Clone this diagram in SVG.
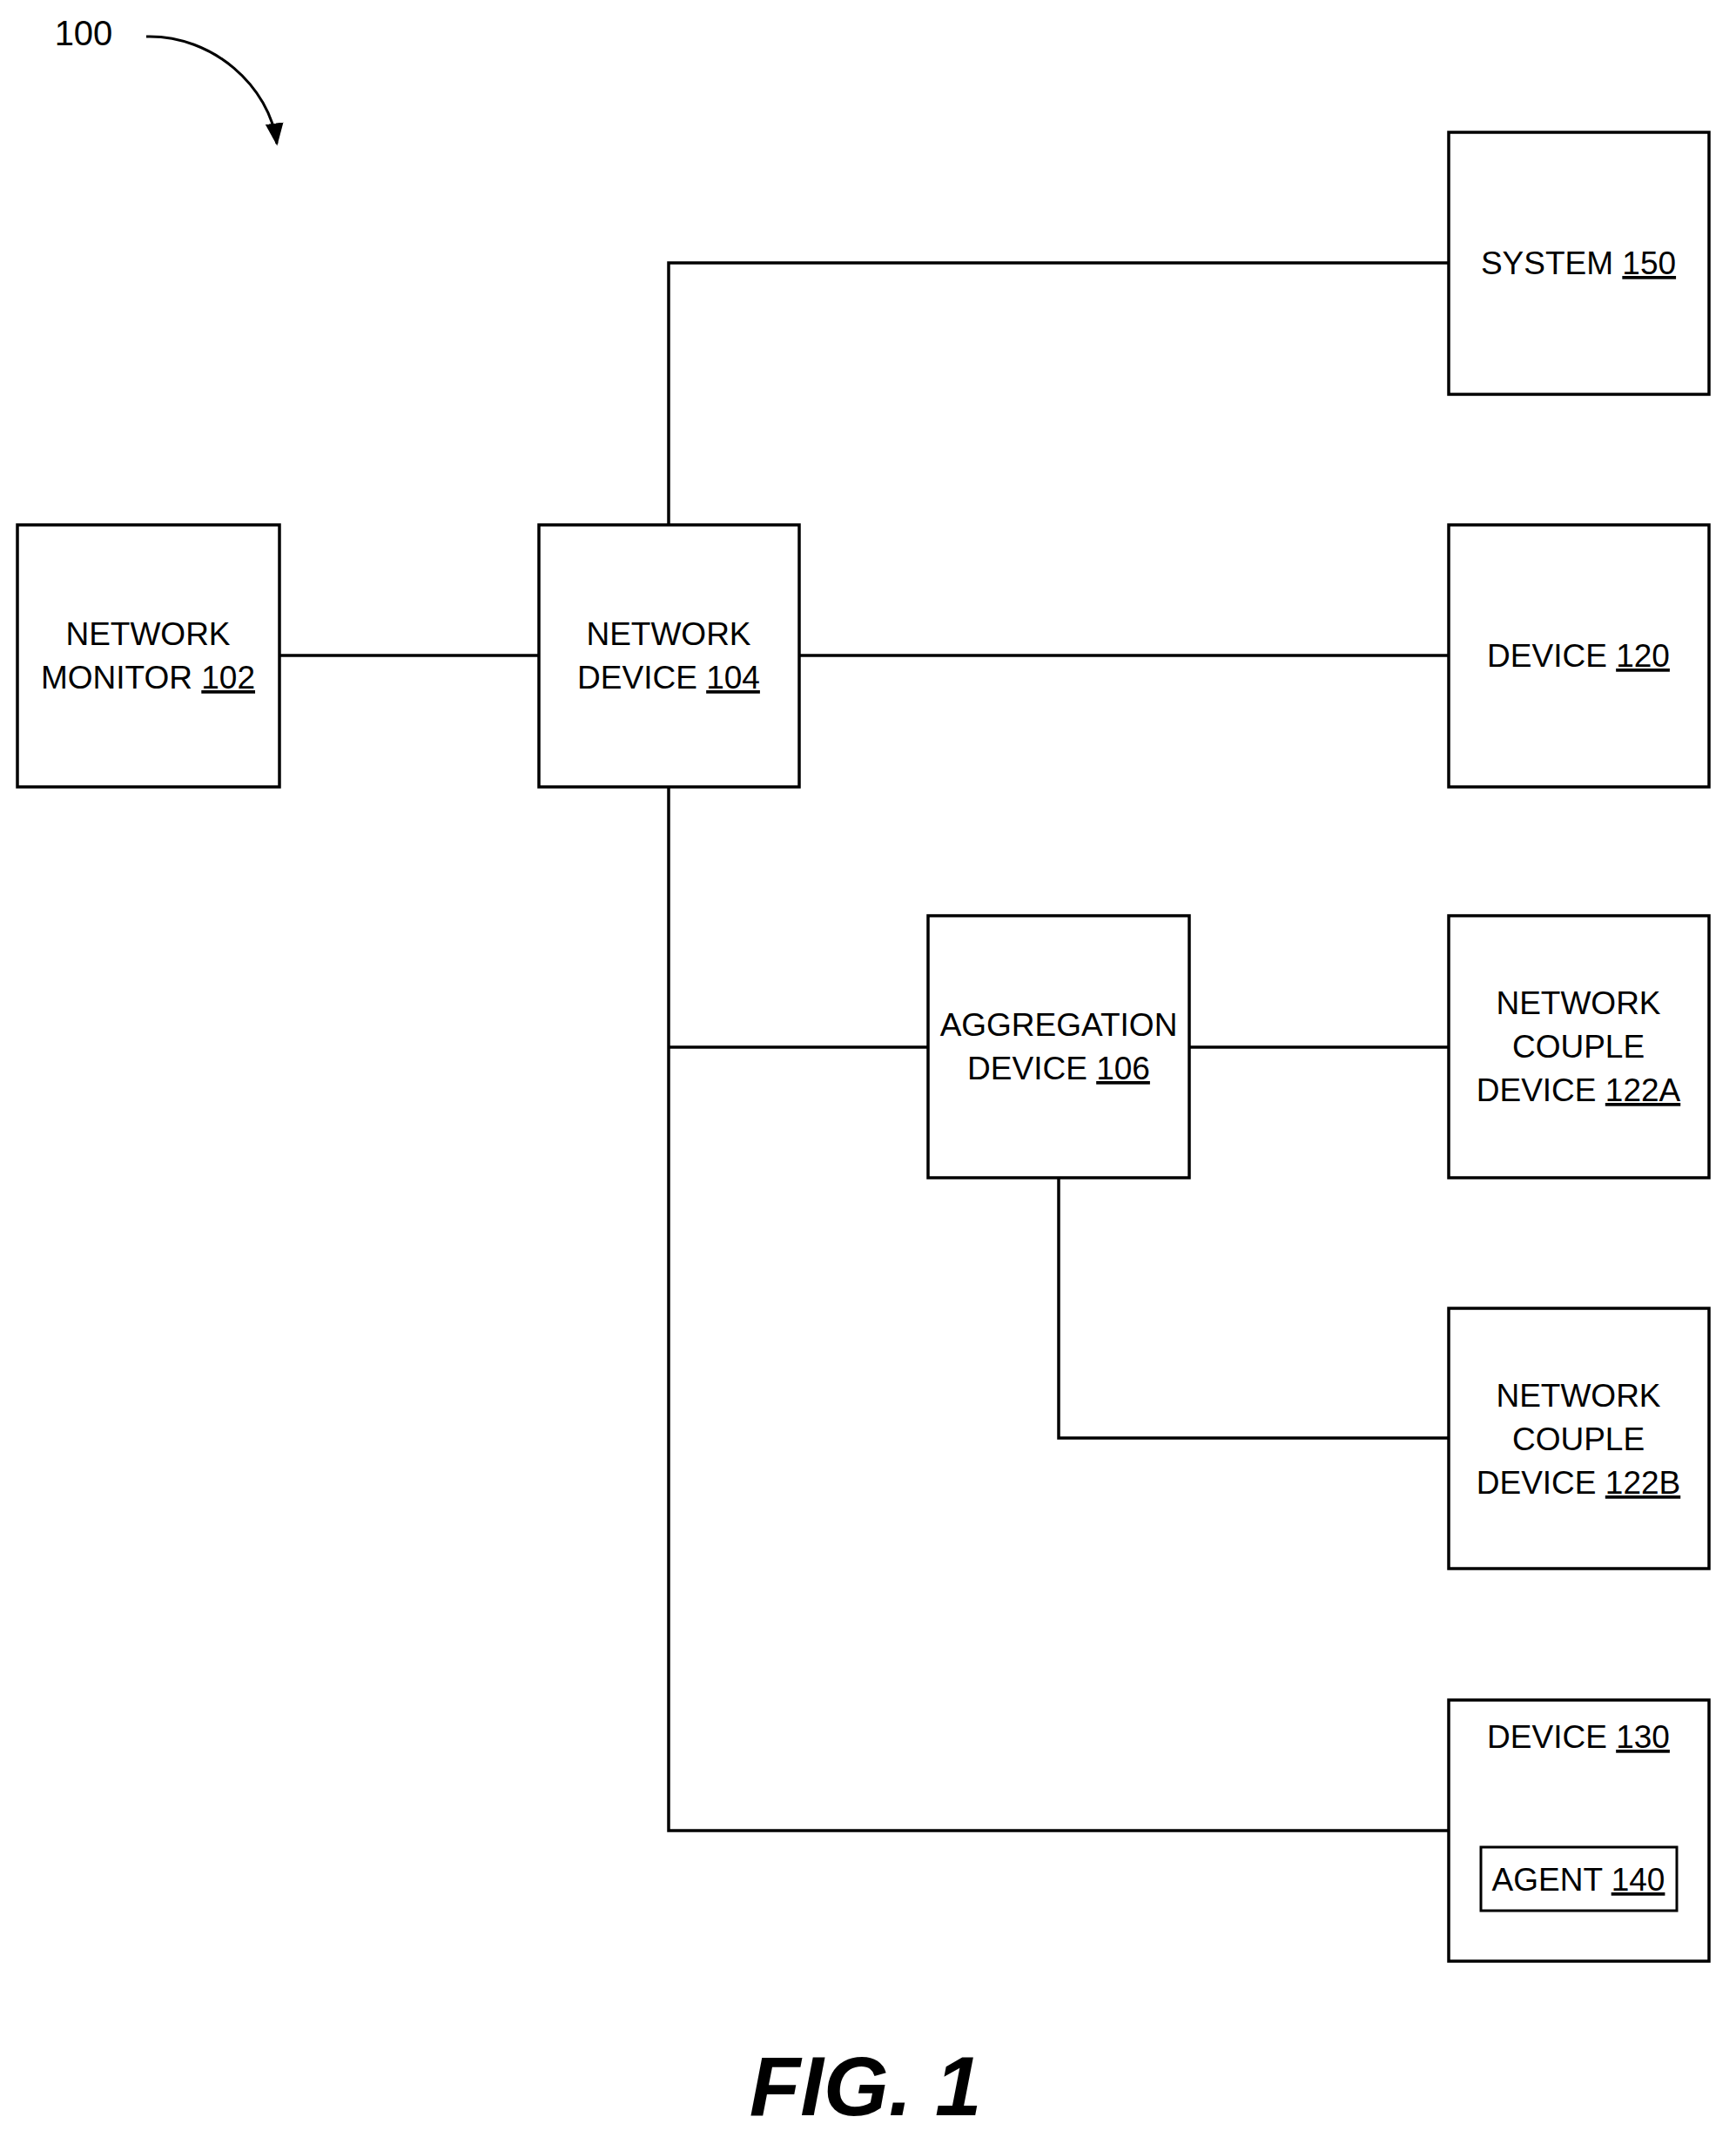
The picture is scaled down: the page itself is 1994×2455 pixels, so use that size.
<svg xmlns="http://www.w3.org/2000/svg" width="1994" height="2455" viewBox="0 0 1994 2455">
<style>
rect{fill:none;stroke:#000;stroke-width:3.5}
.c line,.c path{stroke:#000;stroke-width:3.5;fill:none}
text{font-family:"Liberation Sans",Arial,sans-serif;font-size:37px;text-anchor:middle;fill:#000}
.u{text-decoration:underline}
</style>
<defs><marker id="ah" viewBox="0 0 10 10" refX="9" refY="5" markerWidth="8" markerHeight="8" orient="auto" markerUnits="userSpaceOnUse"><path d="M0,0 L10,5 L0,10 z" fill="#000"/></marker>
<marker id="ah2" viewBox="0 0 10 10" refX="9" refY="5" markerWidth="26" markerHeight="26" orient="auto" markerUnits="userSpaceOnUse"><path d="M0,1 L10,5 L0,9 z" fill="#000"/></marker></defs>
<text x="96" y="52" style="font-size:40px">100</text>
<path d="M168,42 C245,40 310,100 318,165" stroke="#000" stroke-width="3" fill="none" marker-end="url(#ah2)"/>
<g class="c" id="connectors">
<line x1="321" y1="753" x2="619" y2="753"/>
<polyline points="768,603 768,302 1664,302" style="stroke:#000;stroke-width:3.5;fill:none"/>
<line x1="918" y1="753" x2="1664" y2="753"/>
<polyline points="768,904 768,2103 1664,2103" style="stroke:#000;stroke-width:3.5;fill:none"/>
<line x1="768" y1="1203" x2="1066" y2="1203"/>
<line x1="1366" y1="1203" x2="1664" y2="1203"/>
<polyline points="1216,1353 1216,1652 1664,1652" style="stroke:#000;stroke-width:3.5;fill:none"/>
</g>
<g id="n102"><rect x="20" y="603" width="301" height="301"/><text x="170" y="741">NETWORK</text><text x="170" y="791">MONITOR <tspan class="u">102</tspan></text></g>
<g id="n104"><rect x="619" y="603" width="299" height="301"/><text x="768" y="741">NETWORK</text><text x="768" y="791">DEVICE <tspan class="u">104</tspan></text></g>
<g id="n150"><rect x="1664" y="152" width="299" height="301"/><text x="1813" y="315">SYSTEM <tspan class="u">150</tspan></text></g>
<g id="n120"><rect x="1664" y="603" width="299" height="301"/><text x="1813" y="766">DEVICE <tspan class="u">120</tspan></text></g>
<g id="n106"><rect x="1066" y="1052" width="300" height="301"/><text x="1216" y="1190">AGGREGATION</text><text x="1216" y="1240">DEVICE <tspan class="u">106</tspan></text></g>
<g id="n122a"><rect x="1664" y="1052" width="299" height="301"/><text x="1813" y="1165">NETWORK</text><text x="1813" y="1215">COUPLE</text><text x="1813" y="1265">DEVICE <tspan class="u">122A</tspan></text></g>
<g id="n122b"><rect x="1664" y="1503" width="299" height="299"/><text x="1813" y="1616">NETWORK</text><text x="1813" y="1666">COUPLE</text><text x="1813" y="1716">DEVICE <tspan class="u">122B</tspan></text></g>
<g id="n130"><rect x="1664" y="1953" width="299" height="300"/><text x="1813" y="2008">DEVICE <tspan class="u">130</tspan></text></g>
<g id="n140"><rect x="1701" y="2122" width="225" height="73" style="stroke-width:3"/><text x="1813" y="2172">AGENT <tspan class="u">140</tspan></text></g>
<text x="994" y="2430" style="font-size:96px;font-weight:bold;font-style:italic">FIG. 1</text>
</svg>
